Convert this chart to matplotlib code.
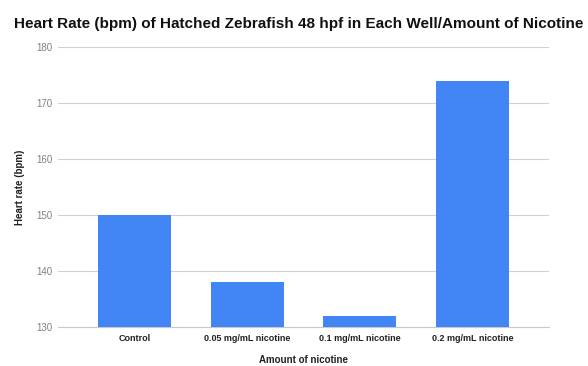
import matplotlib
matplotlib.use("Agg")
import matplotlib.pyplot as plt

categories = ["Control", "0.05 mg/mL nicotine", "0.1 mg/mL nicotine", "0.2 mg/mL nicotine"]
heart_rate = [150, 138, 132, 174]
yticks = [130, 140, 150, 160, 170, 180]

plt.rcParams['font.family'] = ['Liberation Sans', 'DejaVu Sans']

fig = plt.figure(figsize=(5.88, 3.66), dpi=100)
ax = fig.add_axes([0.0986, 0.1066, 0.835, 0.765])

x = list(range(len(categories)))
ax.bar(x, heart_rate, width=0.65, color="#4285F4", zorder=3)
ax.set_ylim(130, 180)
ax.set_xlim(-0.68, 3.68)
ax.set_yticks(yticks)
ax.set_yticklabels([str(t) for t in yticks], color="#808080", fontsize=7)
ax.set_xticks(x)
ax.set_xticklabels(categories, fontsize=6.5, fontweight="bold", color="#222222")
ax.tick_params(axis="y", length=0, pad=4)
ax.tick_params(axis="x", length=0, pad=5)
ax.grid(axis="y", color="#d0d0d0", linewidth=0.8, zorder=0)
for s in ["top", "right", "left"]:
    ax.spines[s].set_visible(False)
ax.spines["bottom"].set_color("#c8c8c8")
ax.spines["bottom"].set_linewidth(0.8)

ax.set_xlabel("Amount of nicotine", fontsize=7, fontweight="bold", labelpad=9, color="#222222")
ax.set_ylabel("Heart rate (bpm)", fontsize=7, fontweight="bold", labelpad=8, color="#222222")

fig.text(0.508, 0.935, "Heart Rate (bpm) of Hatched Zebrafish 48 hpf in Each Well/Amount of Nicotine",
         ha="center", va="center", fontsize=11, fontweight="bold", color="#111111")

fig.savefig("out.png", dpi=100)
